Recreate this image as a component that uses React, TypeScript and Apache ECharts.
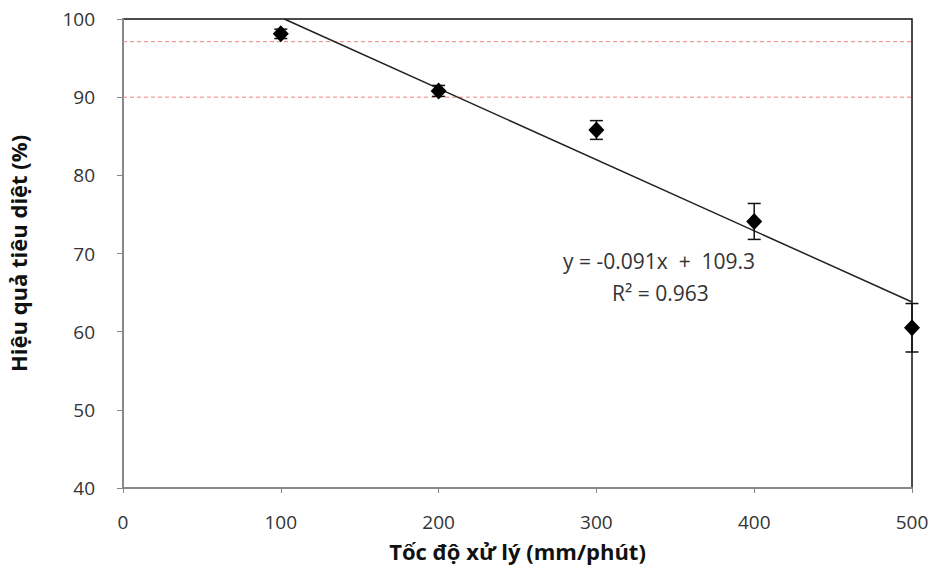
import React, { useEffect, useRef } from "react";
import * as echarts from "echarts";

const speeds = [100, 200, 300, 400, 500];
const efficiency = [98.1, 90.8, 85.8, 74.1, 60.5];
const errors = [0.6, 0.7, 1.2, 2.3, 3.1];
const refLines = [97.1, 90];
const trendSlope = -0.091;
const trendIntercept = 109.3;
const trendRange = [102.2, 500];
const xTicks = [0, 500, 100];
const yTicks = [40, 100, 10];
const equationText = "y = -0.091x  +  109.3";
const r2Text = "R² = 0.963";

export default function App() {
  const ref = useRef<HTMLDivElement>(null);
  useEffect(() => {
    if (!ref.current) return;
    const chart = echarts.init(ref.current, null, { renderer: "svg" });
    const font = "'Open Sans', 'Liberation Sans', sans-serif";
    const points = speeds.map((x, i) => [x, efficiency[i]]);
    const errData = speeds.map((x, i) => [x, efficiency[i] - errors[i], efficiency[i] + errors[i]]);
    const trend = trendRange.map((x) => [x, +(trendSlope * x + trendIntercept).toFixed(2)]);
    const refSeries = refLines.map((v) => ({
      type: "line",
      data: [[xTicks[0], v], [xTicks[1], v]],
      symbol: "none",
      silent: true,
      lineStyle: { color: "#f27f7f", type: [4, 3], width: 1 },
      z: 2,
    }));
    chart.setOption({
      animation: false,
      backgroundColor: "#fff",
      grid: {
        left: 123,
        right: 20,
        top: 19,
        bottom: 81,
        show: true,
        borderColor: "#111",
        borderWidth: 1.5,
        outerBoundsMode: "none",
        containLabel: false,
      },
      xAxis: {
        type: "value",
        min: xTicks[0],
        max: xTicks[1],
        interval: xTicks[2],
        name: "Tốc độ xử lý (mm/phút)",
        nameLocation: "middle",
        nameGap: 52,
        nameTextStyle: { fontFamily: font, fontSize: 22, fontWeight: "bold", color: "#111" },
        axisLine: { lineStyle: { color: "#888", width: 2 } },
        axisTick: { show: true, length: 5, lineStyle: { color: "#888" } },
        axisLabel: { fontFamily: font, fontSize: 19, color: "#333", margin: 24 },
        splitLine: { show: false },
      },
      yAxis: {
        type: "value",
        min: yTicks[0],
        max: yTicks[1],
        interval: yTicks[2],
        name: "Hiệu quả tiêu diệt (%)",
        nameLocation: "middle",
        nameGap: 94,
        nameTextStyle: { fontFamily: font, fontSize: 22, fontWeight: "bold", color: "#111" },
        axisLine: { show: true, lineStyle: { color: "#888", width: 2 } },
        axisTick: { show: true, length: 6, lineStyle: { color: "#888" } },
        axisLabel: { fontFamily: font, fontSize: 19, color: "#333", margin: 28 },
        splitLine: { show: false },
      },
      series: [
        ...refSeries,
        {
          type: "line",
          data: trend,
          symbol: "none",
          lineStyle: { color: "#222", width: 1.5 },
          z: 3,
        },
        {
          type: "custom",
          data: errData,
          z: 4,
          renderItem: (params: any, api: any) => {
            const x = api.value(0);
            const lo = api.coord([x, api.value(1)]);
            const hi = api.coord([x, api.value(2)]);
            const w = 6.5;
            const style = { stroke: "#111", lineWidth: 1.5 };
            return {
              type: "group",
              children: [
                { type: "line", shape: { x1: lo[0], y1: lo[1], x2: hi[0], y2: hi[1] }, style },
                { type: "line", shape: { x1: lo[0] - w, y1: lo[1], x2: lo[0] + w, y2: lo[1] }, style },
                { type: "line", shape: { x1: hi[0] - w, y1: hi[1], x2: hi[0] + w, y2: hi[1] }, style },
              ],
            };
          },
        },
        {
          type: "scatter",
          data: points,
          symbol: "diamond",
          symbolSize: [16, 17],
          itemStyle: { color: "#000", opacity: 1 },
          z: 5,
        },
      ],
      graphic: [
        {
          type: "text",
          left: 563,
          top: 250,
          style: { text: equationText, fontFamily: font, fontSize: 21, fill: "#333" },
        },
        {
          type: "text",
          left: 612,
          top: 282,
          style: { text: r2Text, fontFamily: font, fontSize: 21, fill: "#333" },
        },
      ],
    });
    return () => chart.dispose();
  }, []);
  return <div ref={ref} style={{ width: 932, height: 569, position: "absolute", left: 0, top: 0 }} />;
}
